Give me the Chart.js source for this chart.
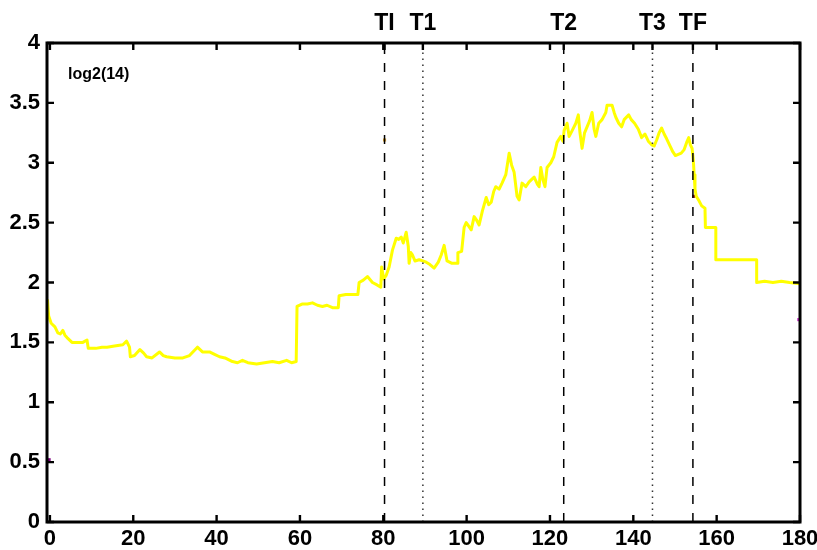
<!DOCTYPE html>
<html>
<head>
<meta charset="utf-8">
<script src="https://cdn.jsdelivr.net/npm/chart.js@4"></script>
<style>
html,body{margin:0;padding:0;background:#fff;}
canvas{display:block;}
</style>
</head>
<body>
<canvas id="c" width="817" height="550"></canvas>
<script>
// ---- data ----
const seriesX = [-0.6,-0.3,0.3,1.2,1.9,2.5,3.1,3.6,4.1,5.3,6.5,7.9,8.9,9.2,11,12.5,13.7,15.5,17.5,18.4,19.1,19.3,20.3,21.6,22.5,23.2,24.5,26.3,27.2,28,30,31.9,33.5,35.4,36.6,38.3,39.5,40.7,42,43.8,45,46.2,47.5,49.6,51.5,53.4,55,56.8,58,59.1,
59.3,60.5,61.8,63,64.2,65.4,66.5,67.8,69.2,69.4,71,72.5,73.9,74.2,75.2,76.2,77.4,78.5,79.4,79.6,80.1,80.7,81.4,82.2,83.1,83.7,84.3,84.8,85.5,86.0,86.2,86.6,87,87.6,88.6,89.5,90.3,91.2,92.2,93.2,93.9,94.6,95.3,96.5,97.7,97.9,98.8,99.4,99.9,
100.5,101.1,101.8,102.4,103,103.8,104.7,105.3,105.9,106.5,107,107.8,108.5,109.4,110.2,110.8,111.4,112.1,112.6,113.3,114.2,115,116.2,117,117.4,117.8,118.3,118.8,119.3,120.2,120.9,121.7,122.6,123.1,123.4,124.1,124.6,125.2,126.2,126.8,127.2,127.7,128.3,128.9,129.5,130.1,130.6,131,131.7,132.5,133.4,133.7,134.9,135.4,135.8,136.5,137.2,137.8,138.9,139.5,140.3,141.2,142,142.8,143.6,144.4,145,145.6,146.2,146.8,147.4,148,148.8,149.5,150.1,150.8,151.5,152.2,152.8,153.3,153.7,154.1,154.4,154.6,154.8,155.1,155.8,156.4,157.2,157.3,159.8,159.8,169.6,169.6,171.5,173.5,175.5,177.5,180];
const seriesY = [1.86,1.72,1.66,1.63,1.58,1.57,1.60,1.56,1.54,1.50,1.50,1.50,1.52,1.45,1.45,1.46,1.46,1.47,1.48,1.51,1.46,1.38,1.39,1.44,1.41,1.38,1.37,1.42,1.39,1.38,1.37,1.37,1.39,1.46,1.42,1.42,1.40,1.38,1.37,1.34,1.33,1.35,1.33,1.32,1.33,1.34,1.33,1.35,1.33,1.34,
1.80,1.82,1.82,1.83,1.81,1.80,1.81,1.79,1.79,1.89,1.90,1.90,1.90,2.00,2.02,2.05,2.00,1.98,1.96,2.13,2.03,2.06,2.13,2.27,2.37,2.36,2.38,2.33,2.42,2.30,2.16,2.25,2.23,2.18,2.19,2.18,2.17,2.15,2.12,2.17,2.23,2.31,2.18,2.16,2.16,2.25,2.26,2.46,2.50,
2.47,2.44,2.55,2.52,2.48,2.60,2.71,2.65,2.67,2.76,2.80,2.78,2.83,2.90,3.08,2.98,2.92,2.72,2.69,2.83,2.80,2.84,2.88,2.82,2.80,2.96,2.86,2.80,2.96,3.00,3.05,3.17,3.22,3.18,3.27,3.33,3.22,3.26,3.33,3.40,3.25,3.12,3.25,3.30,3.35,3.42,3.28,3.22,3.33,3.36,3.42,3.48,3.48,3.42,3.38,3.33,3.30,3.36,3.40,3.36,3.33,3.28,3.21,3.24,3.18,3.15,3.14,3.19,3.25,3.29,3.24,3.20,3.14,3.09,3.06,3.07,3.08,3.11,3.17,3.21,3.15,3.12,3.02,2.90,2.78,2.72,2.68,2.64,2.62,2.46,2.46,2.19,2.19,2.00,2.01,2.00,2.01,2.00,1.99];

const eventNames = ['TI','T1','T2','T3','TF'];
const eventX = [80.3, 89.5, 123.3, 144.6, 154.3];
const eventDashed = [true, false, true, false, true];

const xTicks = [0,20,40,60,80,100,120,140,160,180];
const yTicks = [0,0.5,1,1.5,2,2.5,3,3.5,4];

const markerX = [-0.2, 179.7, 80.3, 80.2, 154.5];
const markerY = [0.52, 1.69, 3.19, 2.05, 2.72];
const markerColors = ['#800080','#cc33cc','#d9a030','#8b1010','#8b1010'];

const annotationText = 'log2(14)';

// ---- chart ----
const FONT = "'Liberation Sans', Arial, Helvetica, sans-serif";

const datasets = [];
eventX.forEach((x, i) => {
  datasets.push({
    type: 'line',
    data: [{x: x, y: 0}, {x: x, y: 4}],
    borderColor: eventDashed[i] ? '#000' : '#333',
    borderWidth: 1.5,
    borderDash: eventDashed[i] ? [9, 9] : [1.5, 4.5],
    pointRadius: 0,
    fill: false
  });
});
datasets.push({
  type: 'line',
  data: seriesX.map((x, i) => ({x: x, y: seriesY[i]})),
  borderColor: '#ffff00',
  borderWidth: 3,
  pointRadius: 0,
  tension: 0,
  fill: false,
  borderJoinStyle: 'round'
});
datasets.push({
  type: 'scatter',
  data: markerX.map((x, i) => ({x: x, y: markerY[i]})),
  pointStyle: 'rect',
  pointRadius: 2.2,
  pointBorderWidth: 0,
  backgroundColor: markerColors,
  borderColor: markerColors
});

const framePlugin = {
  id: 'frame',
  afterDatasetsDraw(chart) {
    const {ctx, chartArea: a, scales} = chart;
    const xs = scales.x, ys = scales.y;
    ctx.save();
    ctx.strokeStyle = '#000';
    ctx.lineWidth = 3;
    ctx.strokeRect(a.left, a.top, a.right - a.left, a.bottom - a.top);
    ctx.lineWidth = 2.4;
    const tl = 7;
    ctx.beginPath();
    xTicks.forEach(v => {
      const px = xs.getPixelForValue(v);
      ctx.moveTo(px, a.bottom); ctx.lineTo(px, a.bottom - tl);
      ctx.moveTo(px, a.top); ctx.lineTo(px, a.top + tl);
    });
    eventX.forEach(v => {
      const px = xs.getPixelForValue(v);
      ctx.moveTo(px, a.top); ctx.lineTo(px, a.top + tl);
    });
    yTicks.forEach(v => {
      const py = ys.getPixelForValue(v);
      ctx.moveTo(a.left, py); ctx.lineTo(a.left + tl, py);
      ctx.moveTo(a.right, py); ctx.lineTo(a.right - tl, py);
    });
    ctx.stroke();
    // event labels
    ctx.fillStyle = '#000';
    ctx.font = 'bold 23px ' + FONT;
    ctx.textAlign = 'center';
    ctx.textBaseline = 'alphabetic';
    eventNames.forEach((n, i) => {
      ctx.fillText(n, xs.getPixelForValue(eventX[i]), 30);
    });
    // annotation
    ctx.font = 'bold 16px ' + FONT;
    ctx.textAlign = 'left';
    ctx.textBaseline = 'middle';
    ctx.fillText(annotationText, 68, 75);
    ctx.restore();
  }
};

new Chart(document.getElementById('c'), {
  data: {datasets: datasets},
  options: {
    responsive: false,
    animation: false,
    devicePixelRatio: 1,
    layout: {padding: {top: 43, right: 17, left: 0, bottom: 0}},
    plugins: {legend: {display: false}, tooltip: {enabled: false}},
    scales: {
      x: {
        type: 'linear',
        min: -0.7,
        max: 180,
        afterBuildTicks(scale) { scale.ticks = xTicks.map(v => ({value: v})); },
        afterFit(scale) { scale.height = 28; scale.paddingLeft = 0; scale.paddingRight = 0; },
        grid: {display: false, drawTicks: false},
        border: {display: false},
        ticks: {
          color: '#000',
          padding: 4,
          maxRotation: 0,
          autoSkip: false,
          font: {family: FONT, size: 22, weight: 'bold'},
          callback: v => String(v)
        }
      },
      y: {
        type: 'linear',
        min: 0,
        max: 4,
        afterBuildTicks(scale) { scale.ticks = yTicks.map(v => ({value: v})); },
        afterFit(scale) { scale.width = 47; scale.paddingTop = 0; scale.paddingBottom = 0; },
        grid: {display: false, drawTicks: false},
        border: {display: false},
        ticks: {
          color: '#000',
          padding: 7,
          autoSkip: false,
          font: {family: FONT, size: 22, weight: 'bold'},
          callback: v => String(v)
        }
      }
    }
  },
  plugins: [framePlugin]
});
</script>
</body>
</html>
